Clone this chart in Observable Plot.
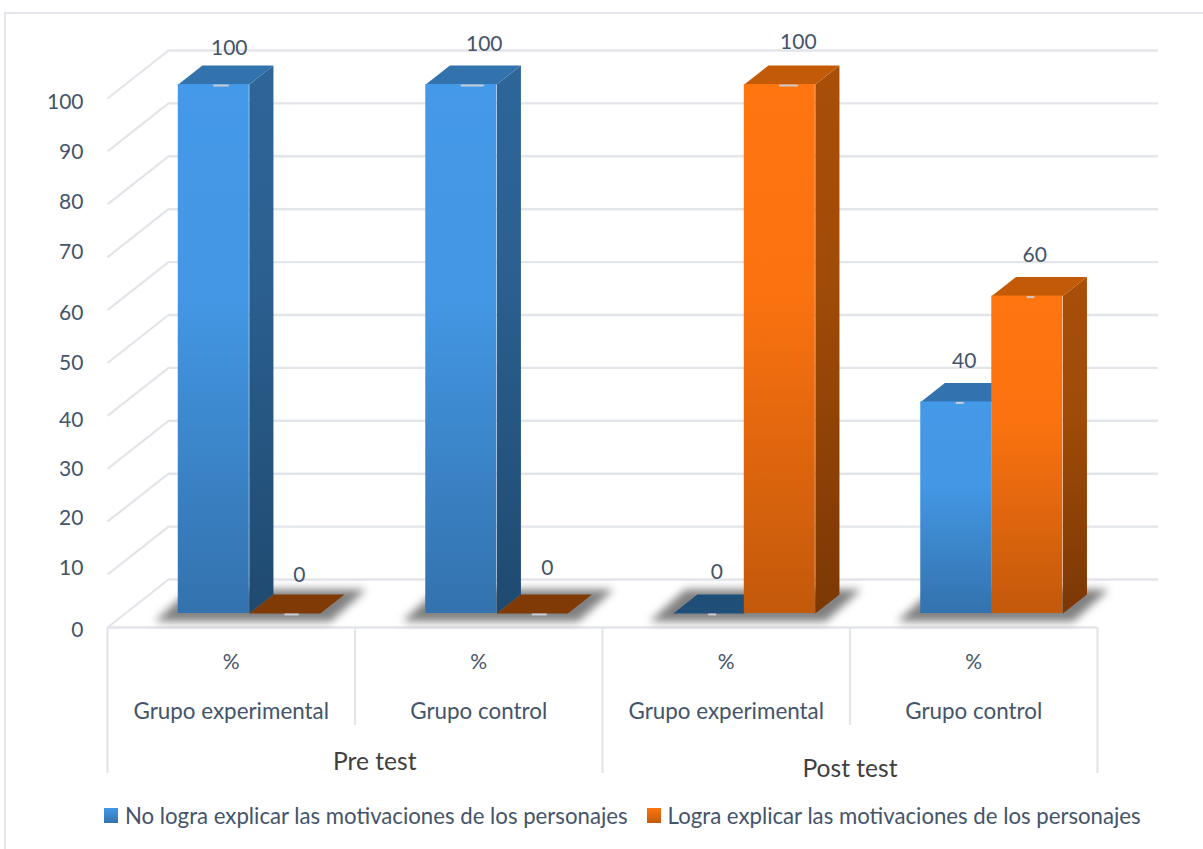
<!DOCTYPE html>
<html lang="es">
<head>
<meta charset="utf-8">
<title>Motivaciones de los personajes</title>
<script src="https://cdn.jsdelivr.net/npm/d3@7"></script>
<script src="https://cdn.jsdelivr.net/npm/@observablehq/plot@0.6"></script>
<style>
  html, body { margin: 0; padding: 0; background: #fff; overflow: hidden; }
  #page { position: relative; width: 1203px; height: 849px; overflow: hidden; font-family: Lato, sans-serif; }
  #border { position: absolute; left: 4px; top: 12px; width: 1300px; height: 1000px; border-left: 2px solid #e3e6ec; border-top: 2px solid #e3e6ec; }
  #chart { position: absolute; left: 0; top: 0; }
  #legend { position: absolute; left: 104px; top: 800px; height: 30px; display: flex; align-items: center; font-size: 22.2px; color: #44546a; white-space: nowrap; }
  #legend i { display: inline-block; width: 14px; height: 15px; margin-right: 7px; }
  #legend span { display: flex; align-items: center; margin-right: 19px; }
</style>
</head>
<body>
<div id="page">
  <div id="border"></div>
  <div id="chart"></div>
  <div id="legend"></div>
</div>
<script>
// Chart values
const phases = ["Pre test", "Post test"];
const groups = ["Grupo experimental", "Grupo control", "Grupo experimental", "Grupo control"];
const unitLabel = "%";
const seriesNames = [
  "No logra explicar las motivaciones de los personajes",
  "Logra explicar las motivaciones de los personajes"
];
const noLogra = [100, 100, 0, 40];
const logra = [0, 0, 100, 60];
const ticks = [0, 10, 20, 30, 40, 50, 60, 70, 80, 90, 100];

// Hand placement of text, in pixels, relative to its natural anchor
const tickNudge = [3, -6, -3, 0, 4, 0, 3, -5, -2, 1, 4];
const noLograNudge = [[15.5, -36], [23, -40], [8, -41], [8, -41]];
const lograNudge = [[14.5, -38], [15, -45], [18.5, -42], [7.5, -41]];

// Oblique projection: a point has a slot position, a value and a depth (0 front, 1 back wall)
const slotPx = 247.5;
const valuePx = 5.29;
const depthX = 61 / slotPx;
const depthY = 48 / valuePx;
const near = 0.2917;
const far = 0.6875;
const barStart = 0.214;
const barWidth = 0.287;
const project = (pos, value, depth) => ({x: pos + depth * depthX, y: value + depth * depthY});

const bars = [];
[noLogra, logra].forEach((series, s) => {
  series.forEach((value, slot) => {
    const nudge = (s === 0 ? noLograNudge : lograNudge)[slot];
    bars.push({slot, s, value, x0: slot + barStart + s * barWidth, x1: slot + barStart + (s + 1) * barWidth, nudge});
  });
});

const face = (list, corners) =>
  list.flatMap((b, i) => corners(b).map(([pos, value, depth]) => ({id: i, ...project(pos, value, depth)})));
const topFace = (b) => [[b.x0, b.value, near], [b.x1, b.value, near], [b.x1, b.value, far], [b.x0, b.value, far]];
const sideFace = (b) => [[b.x1, 0, near], [b.x1, 0, far], [b.x1, b.value, far], [b.x1, b.value, near]];
const shadowFace = (slot) => [
  [slot + 0.14, -0.75, 0.208], [slot + 0.85, -0.75, 0.208],
  [slot + 0.85, 0, 0.79], [slot + 0.14, 0, 0.79]
];

const solid = (list, fill) => Plot.line(list, {x: "x", y: "y", z: "id", fill, stroke: "none", curve: "linear-closed"});
const gridColor = "#e2e5ea";

// Gradient definitions for the lit front faces and the shaded sides
const gradients = {
  blueFront: ["#4499e8", "#4397e4", "#3372ad"],
  orangeFront: ["#ff7510", "#fb7210", "#c2590b"],
  blueSide: ["#2e6699", "#2b5f8f", "#1f4a70"],
  orangeSide: ["#a84f09", "#a04b08", "#7c3804"]
};
function defs() {
  const d = d3.create("svg:defs");
  for (const [id, [a, b, c]] of Object.entries(gradients)) {
    const g = d.append("linearGradient").attr("id", id).attr("x1", 0).attr("y1", 0).attr("x2", 0).attr("y2", 1);
    g.append("stop").attr("offset", "0%").attr("stop-color", a);
    g.append("stop").attr("offset", "40%").attr("stop-color", b);
    g.append("stop").attr("offset", "100%").attr("stop-color", c);
  }
  return d.node();
}

const barMarks = (s, topColor, zeroColor, frontFill, sideFill) => {
  const raised = bars.filter((b) => b.s === s && b.value > 0);
  const flat = bars.filter((b) => b.s === s && b.value === 0);
  return [
    solid(face(flat, topFace), zeroColor),
    solid(face(raised, sideFace), sideFill),
    solid(face(raised, topFace), topColor),
    Plot.rect(raised, {
      x1: (b) => b.x0 + near * depthX,
      x2: (b) => b.x1 + near * depthX,
      y1: near * depthY,
      y2: (b) => b.value + near * depthY,
      fill: frontFill
    })
  ];
};

const centre = (b) => (b.x0 + b.x1) / 2 + near * depthX;
const slotCentres = groups.map((g, i) => i + 0.5);

const plot = Plot.plot({
  width: 1203,
  height: 800,
  margin: 0,
  style: {background: "transparent", fontFamily: "Lato, sans-serif", overflow: "visible"},
  x: {type: "linear", domain: [0, 4], range: [107, 1097], axis: null},
  y: {type: "linear", domain: [0, 100], range: [627, 98], axis: null},
  marks: [
    defs,
    // Back wall and left wall gridlines
    Plot.ruleY(ticks, {y: (v) => v + depthY, x1: depthX, x2: 4 + depthX, stroke: gridColor, strokeWidth: 2.4}),
    Plot.link(ticks, {x1: 0, y1: (v) => v, x2: depthX, y2: (v) => v + depthY, stroke: gridColor, strokeWidth: 2.2}),
    // Category table under the floor
    Plot.ruleY([0], {x1: 0, x2: 4, stroke: gridColor, strokeWidth: 2.4}),
    Plot.ruleX([0, 2, 4], {x: (d) => d, y1: 0, y2: -27.6, stroke: gridColor, strokeWidth: 2.2}),
    Plot.ruleX([1, 3], {x: (d) => d, y1: 0, y2: -18.5, stroke: gridColor, strokeWidth: 2.2}),
    // Soft floor shadows
    Plot.line(face([0, 1, 2, 3], shadowFace), {
      x: "x", y: "y", z: "id", fill: "#4a4a4a", fillOpacity: 0.7, stroke: "none",
      curve: "linear-closed", imageFilter: "blur(4px)"
    }),
    // Bars, back series first
    ...barMarks(0, "#3272ad", "#1f4e79", "url(#blueFront)", "url(#blueSide)"),
    ...barMarks(1, "#c25a08", "#7f3a05", "url(#orangeFront)", "url(#orangeSide)"),
    // Leader stubs between each bar and its value label
    Plot.ruleY(bars, {
      y: (b) => b.value + near * depthY,
      x1: centre,
      x2: (b) => centre(b) + b.nudge[0] / slotPx,
      dy: 1, stroke: "#c9ccd2", strokeWidth: 2
    }),
    // Value labels
    Plot.text(bars, {
      x: (b) => centre(b) + b.nudge[0] / slotPx,
      y: (b) => b.value + near * depthY - b.nudge[1] / valuePx,
      text: "value", fill: "#44546a", fontSize: 21
    }),
    // Value axis labels
    Plot.text(ticks, {
      x: -0.097,
      y: (v, i) => v - tickNudge[i] / valuePx,
      text: (v) => String(v),
      textAnchor: "end", fill: "#44546a", fontSize: 21
    }),
    // Category labels
    Plot.text(slotCentres, {x: (d) => d, y: -6.6, text: () => unitLabel, fill: "#44546a", fontSize: 21}),
    Plot.text(slotCentres, {x: (d) => d, y: -15.9, text: (d, i) => groups[i], fill: "#44546a", fontSize: 22.4}),
    Plot.text(phases, {
      x: (d, i) => [1.08, 3][i],
      y: (d, i) => [-25.5, -26.7][i],
      text: (d) => d, fill: "#404040", fontSize: 24.6
    })
  ]
});
document.getElementById("chart").append(plot);

// Legend below the plot
const legend = d3.select("#legend");
seriesNames.forEach((name, i) => {
  const item = legend.append("span");
  item.append("i").style("background", i === 0
    ? "linear-gradient(#4499e8, #3372ad)"
    : "linear-gradient(#ff7510, #c2590b)");
  item.append("b").style("font-weight", "normal").text(name);
});
</script>
</body>
</html>
